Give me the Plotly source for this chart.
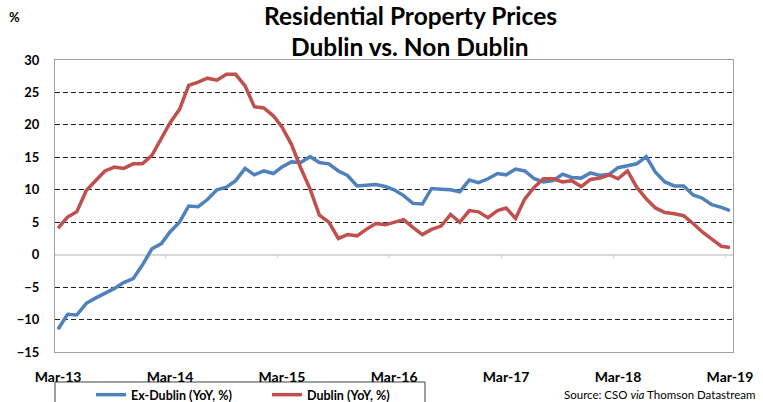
import plotly.graph_objects as go
import pandas as pd

months = [d.strftime("%Y-%m-%d") for d in pd.date_range("2013-03-01", periods=73, freq="MS")]

ex_dublin = [-11.5, -9.2, -9.3, -7.5, -6.7, -6.0, -5.2, -4.3, -3.7, -1.6, 0.9, 1.7,
             3.5, 5.0, 7.5, 7.4, 8.5, 10.0, 10.4, 11.4, 13.3, 12.3, 12.9, 12.5,
             13.5, 14.3, 14.2, 15.1, 14.2, 14.0, 12.9, 12.2, 10.6, 10.7, 10.8, 10.5,
             10.0, 9.1, 7.9, 7.8, 10.2, 10.1, 10.0, 9.7, 11.5, 11.1, 11.7, 12.5,
             12.3, 13.2, 12.9, 11.7, 11.2, 11.4, 12.4, 11.9, 11.8, 12.6, 12.2, 12.4,
             13.4, 13.7, 14.0, 15.1, 12.7, 11.2, 10.6, 10.6, 9.2, 8.7, 7.7, 7.3,
             6.8]

dublin = [4.1, 5.8, 6.6, 9.9, 11.4, 12.9, 13.5, 13.3, 14.0, 14.0, 15.3, 17.8,
          20.3, 22.4, 26.1, 26.6, 27.2, 26.9, 27.8, 27.8, 26.0, 22.8, 22.6, 21.4,
          19.7, 17.0, 13.4, 10.1, 6.1, 5.0, 2.5, 3.1, 2.9, 3.9, 4.8, 4.6,
          5.0, 5.4, 4.2, 3.1, 3.9, 4.4, 6.2, 5.0, 6.8, 6.6, 5.7, 6.8,
          7.2, 5.6, 8.6, 10.4, 11.7, 11.7, 11.2, 11.4, 10.5, 11.6, 11.8, 12.3,
          11.7, 12.9, 10.4, 8.6, 7.2, 6.5, 6.3, 6.0, 4.8, 3.5, 2.4, 1.3,
          1.1]

series_names = ["Ex-Dublin (YoY, %)", "Dublin (YoY, %)"]
series_colors = ["#4F81BD", "#C0504D"]
year_ticks = ["2013-03-01", "2014-03-01", "2015-03-01", "2016-03-01", "2017-03-01", "2018-03-01", "2019-03-01"]
boundary_ticks = ["2014-02-14", "2015-02-14", "2016-02-14", "2017-02-14", "2018-02-14", "2019-02-14"]
title_lines = ["Residential Property Prices", "Dublin vs. Non Dublin"]

FONT = "Lato"

fig = go.Figure()
for name, vals, col in zip(series_names, [ex_dublin, dublin], series_colors):
    fig.add_trace(go.Scatter(x=months, y=vals, mode="lines", name=name,
                             line=dict(color=col, width=3.5)))

for t in boundary_ticks:
    fig.add_shape(type="line", xref="x", yref="y", x0=t, x1=t, y0=0, y1=-0.6,
                  line=dict(color="#D0D0D0", width=1))

# legend frame
fig.add_shape(type="rect", xref="paper", yref="paper", x0=0, x1=0.5457, y0=-0.1027, y1=-0.3,
              line=dict(color="#404040", width=1), fillcolor="rgba(0,0,0,0)", layer="below")

fig.update_layout(
    width=763, height=402,
    margin=dict(l=55, r=30, t=60, b=50, autoexpand=False),
    paper_bgcolor="white", plot_bgcolor="white",
    font=dict(family=FONT, color="black"),
    showlegend=True,
    legend=dict(orientation="h", x=0, xanchor="left", y=-0.096, yanchor="top",
                bgcolor="rgba(0,0,0,0)", borderwidth=0, entrywidth=95,
                indentation=36,
                font=dict(family=FONT, size=12.5, color="black", weight="bold")),
)

fig.update_xaxes(
    type="date", range=["2013-02-19", "2019-03-11"],
    tickvals=year_ticks, tickformat="%b-%y",
    tickfont=dict(family=FONT, size=14, color="black", weight="bold"),
    showgrid=False, ticks="", ticklabelstandoff=12,
    showline=True, linecolor="#A0A0A0", linewidth=1, mirror=True,
)
fig.update_yaxes(
    range=[-15, 30], tick0=-15, dtick=5,
    tickfont=dict(family=FONT, size=13, color="black", weight="bold"),
    showgrid=True, gridcolor="#202020", griddash="5px,3px", gridwidth=1,
    zeroline=True, zerolinecolor="#D9D9D9", zerolinewidth=2,
    ticks="", ticklabelstandoff=12,
    showline=True, linecolor="#A0A0A0", linewidth=1, mirror=True,
)

for line, yy in zip(title_lines, [1.1515, 1.0454]):
    fig.add_annotation(text="<b>" + line + "</b>",
                       xref="paper", yref="paper", x=0.5236, y=yy,
                       xanchor="center", yanchor="middle", showarrow=False,
                       font=dict(family=FONT, size=24.5, color="black"))
fig.add_annotation(text="<b>%</b>", xref="paper", yref="paper", x=-0.06, y=1.147,
                   xanchor="center", yanchor="middle", showarrow=False,
                   font=dict(family=FONT, size=13, color="black"))
fig.add_annotation(text="Source: CSO <i>via</i> Thomson Datastream", xref="paper", yref="paper",
                   x=1.035, y=-0.147, xanchor="right", yanchor="middle", showarrow=False,
                   font=dict(family=FONT, size=11.5, color="black"))

fig.write_html("out.html")
